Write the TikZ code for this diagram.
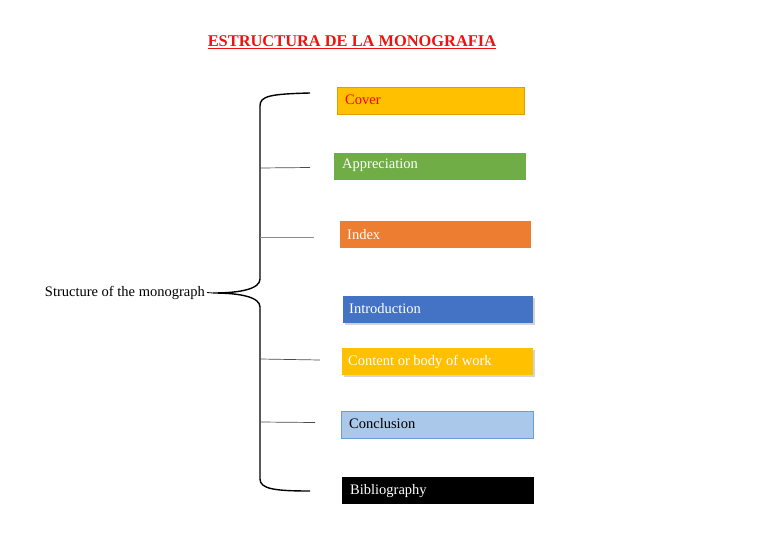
\documentclass[tikz,border=0pt]{standalone}
\usepackage{fontspec}
\setmainfont{Liberation Serif}
\usetikzlibrary{shadows}
\definecolor{cgold}{HTML}{FFC000}
\definecolor{cgoldb}{HTML}{D9A000}
\definecolor{cgreen}{HTML}{70AD47}
\definecolor{corange}{HTML}{ED7D31}
\definecolor{cblue}{HTML}{4472C4}
\definecolor{clblue}{HTML}{A9C8EA}
\definecolor{clblueb}{HTML}{6A9FD6}
\definecolor{ctitle}{HTML}{EE1111}
\begin{document}
\begin{tikzpicture}[x=1pt,y=-1pt,
  box/.style={minimum width=#1, minimum height=27pt, anchor=north west, inner sep=0pt},
  boxtext/.style={anchor=west, inner sep=0pt, font=\fontsize{14.5}{16}\selectfont},
  shade/.style={drop shadow={shadow xshift=1.5pt, shadow yshift=-2pt, opacity=0.35}},
  branch/.style={draw=black!70, line width=0.7pt},
  bracel/.style={draw=black, line width=1.4pt}]
\useasboundingbox (0,0) rectangle (768,543);
% title
\node[font=\fontsize{16.4}{18}\selectfont\bfseries, text=ctitle] (title) at (352,42) {\underline{ESTRUCTURA DE LA MONOGRAFIA}};
% boxes
\node[box=187pt, fill=cgold, draw=cgoldb, line width=0.5pt] (cover) at (337,87) {};
\node[boxtext, text=red] (tcover) at (345,100) {Cover};
\node[box=192pt, fill=cgreen] (appr) at (334,153) {};
\node[boxtext, text=white] (tappr) at (342,165.5) {Appreciation};
\node[box=191pt, fill=corange] (index) at (340,221) {};
\node[boxtext, text=white] (tindex) at (347,234.5) {Index};
\node[box=190pt, fill=cblue, shade] (intro) at (343,296) {};
\node[boxtext, text=white] (tintro) at (349,308.5) {Introduction};
\node[box=191pt, fill=cgold, shade] (content) at (342,348) {};
\node[boxtext, text=white] (tcontent) at (348,361.5) {Content or body of work};
\node[box=192pt, fill=clblue, draw=clblueb, line width=0.5pt] (concl) at (341,411) {};
\node[boxtext, text=black] (tconcl) at (349,424) {Conclusion};
\node[box=192pt, fill=black] (biblio) at (342,477) {};
\node[boxtext, text=white] (tbiblio) at (350,491.5) {Bibliography};
% label
\node[anchor=east, inner sep=0pt, font=\fontsize{14.5}{16}\selectfont] (label) at (205,292.5) {Structure of the monograph};
% brace
\coordinate (cusp) at (213,293);
\coordinate (btop) at (310,93);
\coordinate (bbot) at (310,491);
\draw[line width=0.8pt] ([xshift=2pt]label.east) -- (cusp);
\draw[bracel] (btop) .. controls (270,94) and (260,96) .. (260,106) -- (260,279)
  .. controls (260,289) and (240,293) .. (cusp)
  .. controls (240,293) and (260,297) .. (260,307) -- (260,479)
  .. controls (260,489) and (275,491) .. (bbot);
% branches
\coordinate (s1) at (260,168); \coordinate (e1) at (310,167.5);
\coordinate (s2) at (260,237); \coordinate (e2) at (314,237);
\coordinate (s3) at (260,359); \coordinate (e3) at (320,360);
\coordinate (s4) at (260,422); \coordinate (e4) at (315,422.5);
\draw[branch] (s1) -- (e1);
\draw[branch, draw=black!45] (s2) -- (e2);
\draw[branch] (s3) -- (e3);
\draw[branch] (s4) -- (e4);
\end{tikzpicture}
\end{document}
